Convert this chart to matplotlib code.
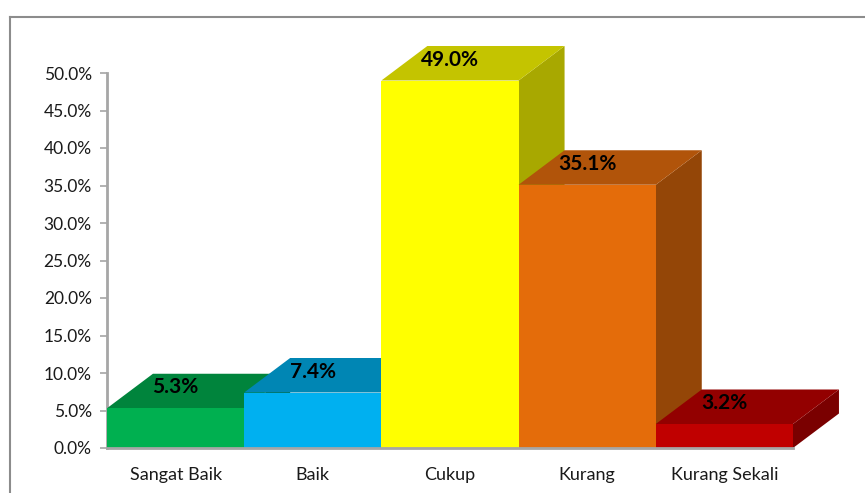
import matplotlib.pyplot as plt
from matplotlib.patches import Polygon
from matplotlib.lines import Line2D

categories = ['Sangat Baik', 'Baik', 'Cukup', 'Kurang', 'Kurang Sekali']
values = [5.3, 7.4, 49.0, 35.1, 3.2]
front_colors = ['#00B050', '#00B0F0', '#FFFF00', '#E46C0A', '#C00000']
top_colors = ['#00843C', '#0086B4', '#C4C400', '#B1540A', '#930000']
side_colors = ['#006A30', '#006D93', '#A8A800', '#944607', '#7A0000']
yticks = [0, 5, 10, 15, 20, 25, 30, 35, 40, 45, 50]

plt.rcParams['font.family'] = ['Lato', 'DejaVu Sans']

fig = plt.figure(figsize=(8.65, 4.93), dpi=100)
ax = fig.add_axes([107 / 865, 1 - 448 / 493, 686 / 865, 375 / 493])
ax.set_xlim(-0.5, 4.5)
ax.set_ylim(0, 50)

dx = 0.335  # depth offset in category units
dy = 4.6    # depth offset in percent units
w = 1.0

for i, (v, fc, tc, sc) in enumerate(zip(values, front_colors, top_colors, side_colors)):
  x0 = i - w / 2
  x1 = i + w / 2
  z = 3 + i
  side = Polygon([(x1, 0), (x1 + dx, dy), (x1 + dx, v + dy), (x1, v)],
                 closed=True, facecolor=sc, edgecolor='none', zorder=z, clip_on=False)
  top = Polygon([(x0, v), (x0 + dx, v + dy), (x1 + dx, v + dy), (x1, v)],
                closed=True, facecolor=tc, edgecolor='none', zorder=z, clip_on=False)
  front = Polygon([(x0, 0), (x0, v), (x1, v), (x1, 0)],
                  closed=True, facecolor=fc, edgecolor='none', zorder=z, clip_on=False)
  ax.add_patch(side)
  ax.add_patch(top)
  ax.add_patch(front)

for i, v in enumerate(values):
  ax.text(i, v + 2.8, f'{v:.1f}%', ha='center', va='center', fontsize=15,
          fontweight='bold', color='black', zorder=20, clip_on=False)

ax.set_yticks(yticks)
ax.set_yticklabels([f'{t:.1f}%' for t in yticks], fontsize=12.5, color='#1a1a1a')
ax.set_xticks(range(len(categories)))
ax.set_xticklabels(categories, fontsize=13, color='#1a1a1a')
ax.tick_params(axis='y', length=5, width=1.2, color='#A6A6A6', pad=6)
ax.tick_params(axis='x', length=0, pad=14)

for s in ['top', 'right']:
  ax.spines[s].set_visible(False)
ax.spines['left'].set_color('#A6A6A6')
ax.spines['left'].set_linewidth(2)
ax.spines['bottom'].set_color('#A6A6A6')
ax.spines['bottom'].set_linewidth(2)
ax.spines['bottom'].set_zorder(30)
ax.set_facecolor('none')

# chart area border
fig.add_artist(Line2D([10 / 865, 10 / 865], [0, 1 - 17 / 493], color='#8C8C8C', lw=1.5))
fig.add_artist(Line2D([10 / 865, 1], [1 - 17 / 493, 1 - 17 / 493], color='#8C8C8C', lw=1.5))

fig.savefig('out.png', dpi=100)
